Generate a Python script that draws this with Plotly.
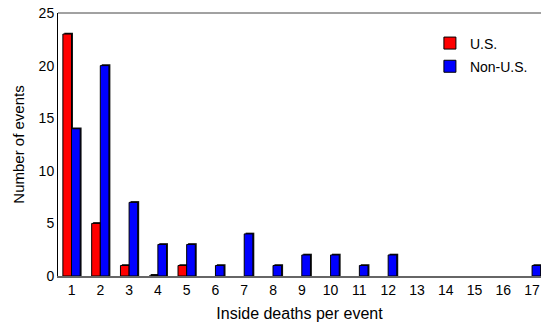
import plotly.graph_objects as go

deaths = list(range(1, 18))
us = [23, 5, 1, 0, 1, 0, 0, 0, 0, 0, 0, 0, 0, 0, 0, 0, 0]
non_us = [14, 20, 7, 3, 3, 1, 4, 1, 2, 2, 1, 2, 0, 0, 0, 0, 1]

us_x = [d for d, v in zip(deaths, us) if d <= 5]
us_y = [v for d, v in zip(deaths, us) if d <= 5]
nu_x = [d for d, v in zip(deaths, non_us) if v > 0]
nu_y = [v for d, v in zip(deaths, non_us) if v > 0]

W = 0.3
fig = go.Figure()
# shadows
fig.add_trace(go.Bar(x=us_x, y=[v + 0.12 for v in us_y], offset=-W + 0.05, width=W,
                     marker=dict(color="#111111", line=dict(width=0)), showlegend=False, hoverinfo="skip"))
fig.add_trace(go.Bar(x=nu_x, y=[v + 0.12 for v in nu_y], offset=0.05, width=W,
                     marker=dict(color="#111111", line=dict(width=0)), showlegend=False, hoverinfo="skip"))
fig.add_trace(go.Bar(x=us_x, y=us_y, offset=-W, width=W, name="U.S.",
                     marker=dict(color="#ff0000", line=dict(color="black", width=1)), legendgroup="a"))
fig.add_trace(go.Bar(x=nu_x, y=nu_y, offset=0, width=W, name="Non-U.S.",
                     marker=dict(color="#0000ff", line=dict(color="black", width=1)), legendgroup="b"))

fig.update_layout(
    width=542, height=322,
    margin=dict(l=58, r=1, t=13, b=46),
    barmode="overlay",
    plot_bgcolor="white", paper_bgcolor="white",
    font=dict(family="Liberation Sans, Arial, sans-serif", size=14, color="black"),
    showlegend=True,
    legend=dict(x=0.77, y=0.945, xanchor="left", yanchor="top", bgcolor="rgba(0,0,0,0)",
                font=dict(size=14), traceorder="grouped", tracegroupgap=2),
    xaxis=dict(range=[0.53, 17.31], tickmode="array", tickvals=deaths,
               ticktext=[str(d) for d in deaths], showgrid=False, zeroline=False,
               showline=True, linecolor="#666666", linewidth=2, ticks="",
               title=dict(text="Inside deaths per event", font=dict(size=16), standoff=11)),
    yaxis=dict(range=[0, 25], tickvals=[0, 5, 10, 15, 20, 25], showgrid=False, zeroline=False,
               showline=True, linecolor="black", linewidth=1, ticks="",
               title=dict(text="Number of events", font=dict(size=15), standoff=10)),
    shapes=[dict(type="line", xref="paper", yref="paper", x0=0, x1=1, y0=1, y1=1,
                 line=dict(color="#444444", width=1))],
)
fig.write_html("out.html", config={"displayModeBar": False})
with open("out.html", "r", encoding="utf-8") as f:
    html = f.read()
html = html.replace("<head>", "<head><style>html,body{margin:0;padding:0;overflow:hidden;}</style>", 1)
with open("out.html", "w", encoding="utf-8") as f:
    f.write(html)
